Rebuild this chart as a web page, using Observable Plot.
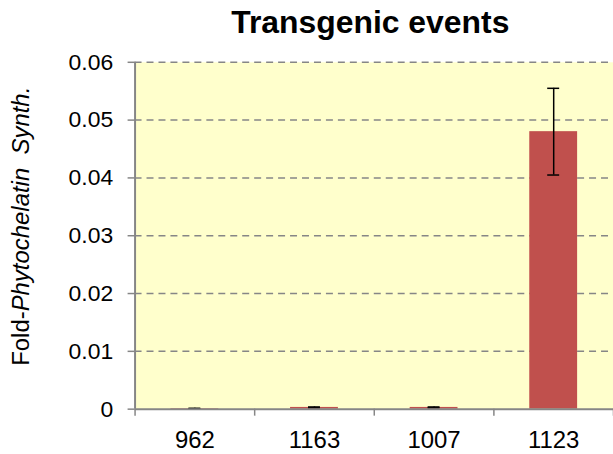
<!DOCTYPE html>
<html><head><meta charset="utf-8">
<script src="https://cdn.jsdelivr.net/npm/d3@7"></script>
<script src="https://cdn.jsdelivr.net/npm/@observablehq/plot@0.6"></script>
<style>
body{margin:0;overflow:hidden;background:#fff;font-family:"Liberation Sans",Arial,sans-serif}
#chart{width:613px;height:454px;overflow:hidden}
</style>
</head><body><div id="chart"></div>
<script>
const categories = ["962", "1163", "1007", "1123"];
const means = [0.0001, 0.0003, 0.0003, 0.048];
const errors = [0.00005, 0.00008, 0.00008, 0.0075];
const yTicks = [0, 0.01, 0.02, 0.03, 0.04, 0.05, 0.06];
const title = "Transgenic events";
const yLabelParts = [["Fold-", "normal"], ["Phytochelatin", "italic"], ["\u00a0\u00a0Synth.", "italic"]];

const data = categories.map((c, i) => ({c, i, mean: means[i], err: errors[i]}));
const capHalf = 0.05;
const axisColor = "#868686";
const font = "'Liberation Sans', Arial, sans-serif";

const plot = Plot.plot({
  width: 615, height: 454,
  marginLeft: 135, marginRight: 0, marginTop: 62, marginBottom: 44,
  style: {fontFamily: font, fontSize: "24px", color: "#000", background: "white", overflow: "visible"},
  x: {domain: [0, categories.length], axis: null, label: null},
  y: {domain: [0, 0.06], axis: null, label: null},
  marks: [
    Plot.frame({fill: "#FFFFCC", stroke: null}),
    Plot.gridY(yTicks.filter(d => d > 0), {stroke: axisColor, strokeOpacity: 1, strokeWidth: 1.5, strokeDasharray: "7,5"}),
    Plot.rectY(data, {x1: "i", x2: d => d.i + 1, y1: 0, y2: "mean", insetLeft: 36, insetRight: 36, fill: "#C0504D"}),
    Plot.ruleX(data, {x: d => d.i + 0.5, y1: d => d.mean - d.err, y2: d => d.mean + d.err, stroke: "#000", strokeWidth: 1.5}),
    Plot.ruleY(data, {x1: d => d.i + 0.5 - capHalf, x2: d => d.i + 0.5 + capHalf, y: d => d.mean + d.err, stroke: "#000", strokeWidth: 1.5}),
    Plot.ruleY(data, {x1: d => d.i + 0.5 - capHalf, x2: d => d.i + 0.5 + capHalf, y: d => d.mean - d.err, stroke: "#000", strokeWidth: 1.5}),
    Plot.axisY(yTicks, {label: null, tickSize: 7, tickPadding: 15, tickFormat: d3.format(".2~f"), stroke: axisColor, strokeWidth: 1.5, fontSize: 23, fill: "#000"}),
    Plot.ruleX([0], {stroke: axisColor, strokeWidth: 2}),
    Plot.ruleY([0], {stroke: axisColor, strokeWidth: 2}),
    Plot.axisX(d3.range(categories.length + 1), {label: null, tickSize: 7, tickFormat: () => "", stroke: axisColor, strokeWidth: 1.5}),
    Plot.axisX(categories.map((c, i) => i + 0.5), {label: null, tickSize: 0, tickPadding: 22, tickFormat: d => categories[Math.floor(d)], fontSize: 24, fill: "#000"}),
    Plot.text([title], {text: d => d, frameAnchor: "top", lineAnchor: "top", dx: -4, dy: -52, fontSize: 32, fontWeight: "bold", fill: "#000"})
  ]
});

const svg = d3.select(plot);
const lbl = svg.append("text")
  .attr("transform", "translate(29,227) rotate(-90)")
  .attr("text-anchor", "middle")
  .attr("font-family", font)
  .attr("font-size", 24)
  .attr("fill", "#000");
yLabelParts.forEach(([t, s]) => lbl.append("tspan").attr("font-style", s).text(t));

document.getElementById("chart").appendChild(plot);
</script>
</body></html>
